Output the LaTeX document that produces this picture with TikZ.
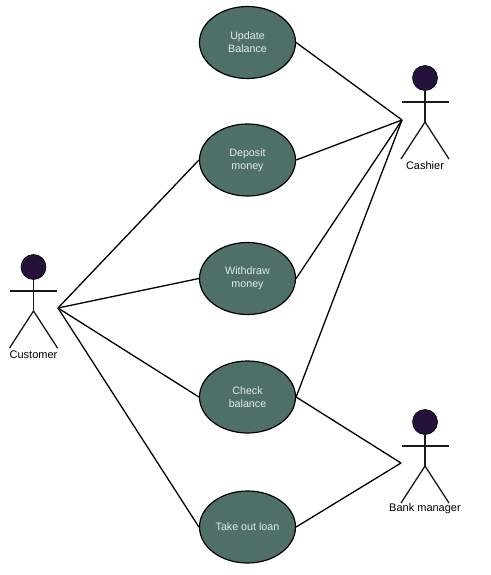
\documentclass[tikz,border=0pt]{standalone}
\usepackage{fontspec}
\setmainfont{Liberation Sans}
\usepackage{tikz}
\usetikzlibrary{positioning,shapes.geometric}
\definecolor{usecasefill}{HTML}{4F7068}
\definecolor{headfill}{HTML}{24123A}
\definecolor{usecasetext}{HTML}{E2EAE7}
% head of an actor, then its limbs: name, x, y, label, label drop
\newcommand{\actor}[5]{
  \node[head] (#1) at (#2,#3) {};
  \coordinate (#1arml) at (#2-23.5,#3+24);
  \coordinate (#1armr) at (#2+23.5,#3+24);
  \coordinate (#1hip) at (#2,#3+44);
  \coordinate (#1legl) at (#2-24,#3+81);
  \coordinate (#1legr) at (#2+24,#3+81);
  \node[actorlabel] (#1label) at (#2,#3+#5) {#4};
  \draw[limb] (#1) -- (#1hip);
  \draw[limb] (#1arml) -- (#1armr);
  \draw[limb] (#1legl) -- (#1hip) -- (#1legr);
}
\begin{document}
\begin{tikzpicture}[
  x=1pt, y=-1pt,
  usecase/.style={draw=black, ellipse, fill=usecasefill, line width=1.2pt, minimum width=96pt, minimum height=72pt, inner sep=0pt, align=center, text=usecasetext, font=\fontsize{10.7}{13}\selectfont},
  head/.style={draw=black, circle, fill=headfill, line width=0.6pt, minimum size=25pt, inner sep=0pt},
  limb/.style={line width=1.3pt, black!90},
  actorlabel/.style={inner sep=0pt, font=\fontsize{11}{13}\selectfont},
  link/.style={line width=1.3pt, black},
]
\useasboundingbox (0,0) rectangle (490,575);
% --- use cases (middle column) ---
\node[usecase] (update) at (247.5,42.5) {Update\\Balance};
\node[usecase] (deposit) at (247.5,160) {Deposit\\money};
\node[usecase] (withdraw) at (247.5,278.5) {Withdraw\\money};
\node[usecase] (check) at (247.5,397) {Check\\balance};
\node[usecase] (loan) at (247.5,527) {Take out loan};
% --- actors ---
\actor{customer}{33.5}{267}{Customer}{87.5}
\actor{cashier}{425}{78}{Cashier}{87.5}
\actor{manager}{425}{422}{Bank manager}{86.5}
% --- free ends beside the actors ---
\coordinate (customerhub) at (58,308);
\coordinate (cashierhub) at (402,120);
\coordinate (managerhub) at (401,463);
% --- links ---
\foreach \uc in {deposit,withdraw,check,loan}
  \draw[link] (customerhub) -- (\uc.west);
\foreach \uc in {update,deposit,withdraw,check}
  \draw[link] (\uc.east) -- (cashierhub);
\draw[link] (check.east) -- (managerhub);
\draw[link] (loan.east) -- (managerhub);
\end{tikzpicture}
\end{document}
